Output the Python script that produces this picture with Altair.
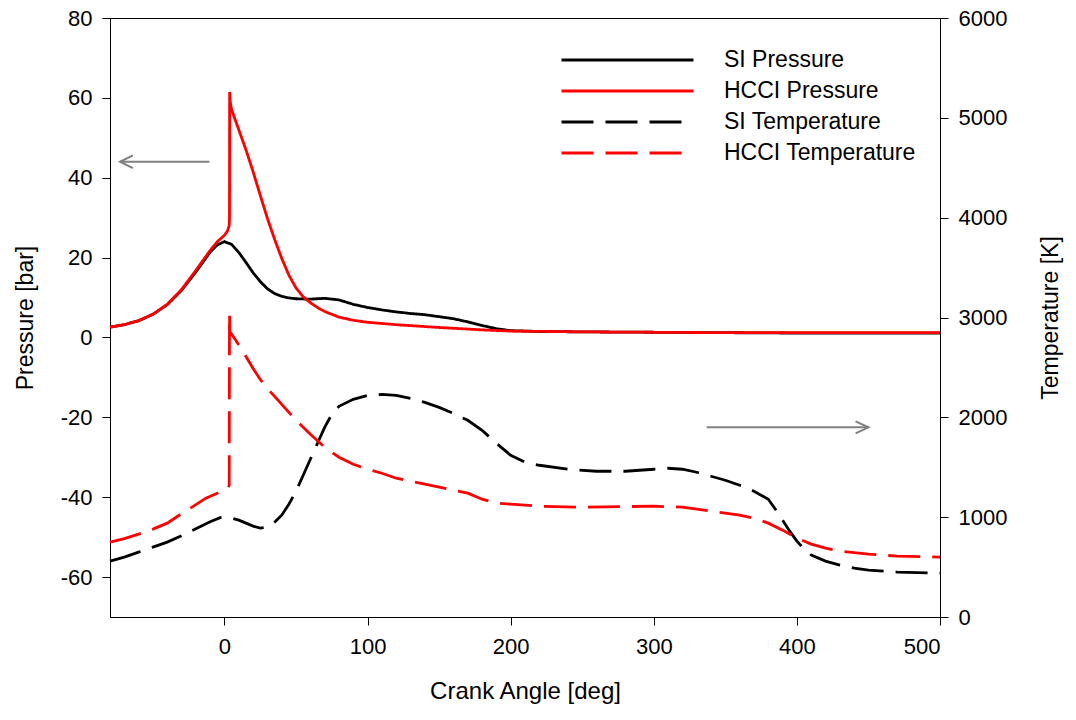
import altair as alt
import pandas as pd

# ---------------- data ----------------
si_p_x = [-80, -70, -60, -50, -40, -30, -20, -10, -5, 0, 5, 10, 15, 20, 25, 30, 35, 40, 45, 50,
          60, 70, 80, 90, 100, 110, 120, 130, 140, 150, 160, 170, 180, 190, 200, 220, 250, 300,
          350, 400, 450, 500]
si_p_y = [2.6, 3.2, 4.2, 5.8, 8.2, 11.8, 16.4, 21.4, 23.2, 24.0, 23.3, 21.3, 18.8, 16.2, 14.0,
          12.2, 11.0, 10.3, 9.9, 9.7, 9.6, 9.8, 9.4, 8.3, 7.5, 6.9, 6.4, 6.0, 5.7, 5.2, 4.7, 3.9,
          3.0, 2.2, 1.7, 1.5, 1.4, 1.3, 1.2, 1.1, 1.1, 1.1]

hcci_p_x = [-80, -70, -60, -50, -40, -30, -20, -10, -5, 0, 2, 3.3, 3.5, 3.6, 4, 5, 10, 15, 20, 25,
            30, 35, 40, 45, 50, 55, 60, 65, 70, 80, 90, 100, 120, 150, 180, 200, 250, 300, 350,
            400, 450, 500]
hcci_p_y = [2.6, 3.2, 4.2, 5.8, 8.3, 12.0, 16.8, 21.8, 24.0, 25.6, 26.6, 28.0, 30.0, 61.5, 59.0,
            57.0, 52.0, 47.0, 41.5, 35.6, 29.8, 24.6, 19.8, 15.6, 12.4, 10.2, 8.7, 7.5, 6.5, 5.1,
            4.3, 3.8, 3.2, 2.5, 1.9, 1.6, 1.4, 1.3, 1.2, 1.2, 1.2, 1.2]

si_t_x = [-80, -70, -60, -50, -40, -30, -20, -10, -3, 0, 5, 10, 15, 20, 25, 30, 35, 40, 45, 50,
          55, 60, 65, 70, 75, 80, 90, 100, 110, 120, 130, 140, 150, 160, 170, 180, 190, 200, 210,
          220, 240, 260, 280, 300, 310, 320, 330, 340, 350, 360, 370, 380, 385, 390, 395, 400,
          405, 410, 420, 430, 440, 450, 470, 500]
si_t_y = [560, 600, 650, 700, 750, 815, 885, 955, 995, 1000, 990, 970, 940, 910, 890, 900, 950,
          1020, 1130, 1260, 1420, 1580, 1740, 1900, 2030, 2110, 2180, 2220, 2230, 2220, 2190,
          2150, 2100, 2040, 1970, 1870, 1740, 1620, 1550, 1520, 1480, 1460, 1460, 1480, 1490,
          1480, 1450, 1410, 1370, 1320, 1260, 1180, 1080, 970, 860, 760, 680, 620, 560, 520,
          490, 470, 450, 440]

hcci_t_x = [-80, -70, -60, -50, -40, -30, -20, -13, -5, -1, 2, 3.3, 3.5, 3.7, 8, 15, 20, 25, 30,
            35, 40, 50, 60, 70, 80, 90, 100, 110, 120, 130, 140, 150, 160, 170, 180, 190, 200,
            220, 250, 300, 320, 340, 360, 370, 380, 390, 400, 410, 420, 430, 450, 470, 500]
hcci_t_y = [750, 785, 830, 880, 940, 1035, 1125, 1190, 1240, 1265, 1280, 1320, 3040, 2860, 2770,
            2610, 2490, 2380, 2290, 2210, 2130, 1970, 1830, 1700, 1600, 1530, 1480, 1440, 1390,
            1360, 1330, 1300, 1270, 1240, 1180, 1140, 1130, 1110, 1100, 1110, 1100, 1060, 1020,
            990, 940, 870, 790, 730, 690, 660, 630, 610, 600]

series_names = ["SI Pressure", "HCCI Pressure", "SI Temperature", "HCCI Temperature"]
series_colors = ["#000000", "#ff0000", "#000000", "#ff0000"]
series_dashes = [[1, 0], [1, 0], [32, 12], [32, 12]]

# annotation arrows (data units): shaft + head polylines
left_arrow_x = [-10.5, -73, -64, -73, -64]
left_arrow_y = [44.0, 44.0, 45.6, 44.0, 42.4]
left_arrow_part = ["shaft", "shaft", "head", "head", "head"]
right_arrow_x = [337, 450, 441, 450, 441]
right_arrow_y = [1900, 1900, 1960, 1900, 1840]
right_arrow_part = ["shaft", "shaft", "head", "head", "head"]

FONT = "Liberation Sans"


def frame(name, xs, ys):
    return pd.DataFrame({"series": name, "angle": xs, "val": ys, "i": list(range(len(xs)))})


pres = pd.concat([frame("SI Pressure", si_p_x, si_p_y),
                  frame("HCCI Pressure", hcci_p_x, hcci_p_y)], ignore_index=True)
temp = pd.concat([frame("SI Temperature", si_t_x, si_t_y),
                  frame("HCCI Temperature", hcci_t_x, hcci_t_y)], ignore_index=True)
larrow = pd.DataFrame({"angle": left_arrow_x, "val": left_arrow_y, "part": left_arrow_part,
                       "i": list(range(len(left_arrow_x)))})
rarrow = pd.DataFrame({"angle": right_arrow_x, "val": right_arrow_y, "part": right_arrow_part,
                       "i": list(range(len(right_arrow_x)))})

axis_common = dict(labelFont=FONT, titleFont=FONT, labelColor="black", titleColor="black",
                   domainColor="black", tickColor="black", tickSize=8, grid=False,
                   titleFontWeight="normal", labelFontSize=22)
plain_label = "datum.value < 0 ? '-' + abs(datum.value) : '' + datum.value"

x_enc = alt.X("angle:Q", scale=alt.Scale(domain=[-80, 500], nice=False, zero=False),
              axis=alt.Axis(values=[0, 100, 200, 300, 400, 500], title="Crank Angle [deg]",
                            labelPadding=11, titlePadding=22, titleFontSize=24,
                            labelExpr=plain_label, **axis_common))

yp_enc = alt.Y("val:Q", scale=alt.Scale(domain=[-70, 80], nice=False, zero=False),
               axis=alt.Axis(values=[-60, -40, -20, 0, 20, 40, 60, 80], title="Pressure [bar]",
                             orient="left", labelPadding=10, titlePadding=23, titleFontSize=23,
                             labelExpr=plain_label, **axis_common))
yt_enc = alt.Y("val:Q", scale=alt.Scale(domain=[0, 6000], nice=False, zero=False),
               axis=alt.Axis(values=[0, 1000, 2000, 3000, 4000, 5000, 6000],
                             title="Temperature [K]", orient="right", labelPadding=10,
                             titlePadding=56, titleAngle=270, titleFontSize=23,
                             labelExpr=plain_label, **axis_common))

color_enc = alt.Color("series:N", scale=alt.Scale(domain=series_names, range=series_colors),
                      title=None)
dash_enc = alt.StrokeDash("series:N", scale=alt.Scale(domain=series_names, range=series_dashes),
                          title=None)

pres_lines = alt.Chart(pres).mark_line(strokeWidth=2.8, strokeCap="butt").encode(
    x=x_enc, y=yp_enc, color=color_enc, strokeDash=dash_enc, order="i:Q", detail="series:N")
temp_lines = alt.Chart(temp).mark_line(strokeWidth=2.8, strokeCap="butt").encode(
    x=x_enc, y=yt_enc, color=color_enc, strokeDash=dash_enc, order="i:Q", detail="series:N")

larrow_lines = alt.Chart(larrow).mark_line(strokeWidth=2, color="#808080").encode(
    x=x_enc, y=yp_enc, detail="part:N", order="i:Q")
rarrow_lines = alt.Chart(rarrow).mark_line(strokeWidth=2, color="#808080").encode(
    x=x_enc, y=yt_enc, detail="part:N", order="i:Q")

left = alt.layer(pres_lines, larrow_lines)
right = alt.layer(temp_lines, rarrow_lines)

chart = alt.layer(left, right).resolve_scale(y="independent").properties(
    width=830, height=599,
    autosize=alt.AutoSizeParams(type="none"),
    padding={"left": 110, "top": 18, "right": 136, "bottom": 103},
    background="white",
).configure_view(stroke="black", strokeWidth=1).configure_legend(
    orient="none", legendX=450, legendY=31, padding=0, symbolType="stroke",
    symbolSize=17424, symbolStrokeWidth=3, clipHeight=22, rowPadding=8,
    labelFont=FONT, labelFontSize=23, labelColor="black", labelOffset=29,
    labelLimit=400,
)

chart.save("out.html", embed_options={"renderer": "svg", "actions": False})
